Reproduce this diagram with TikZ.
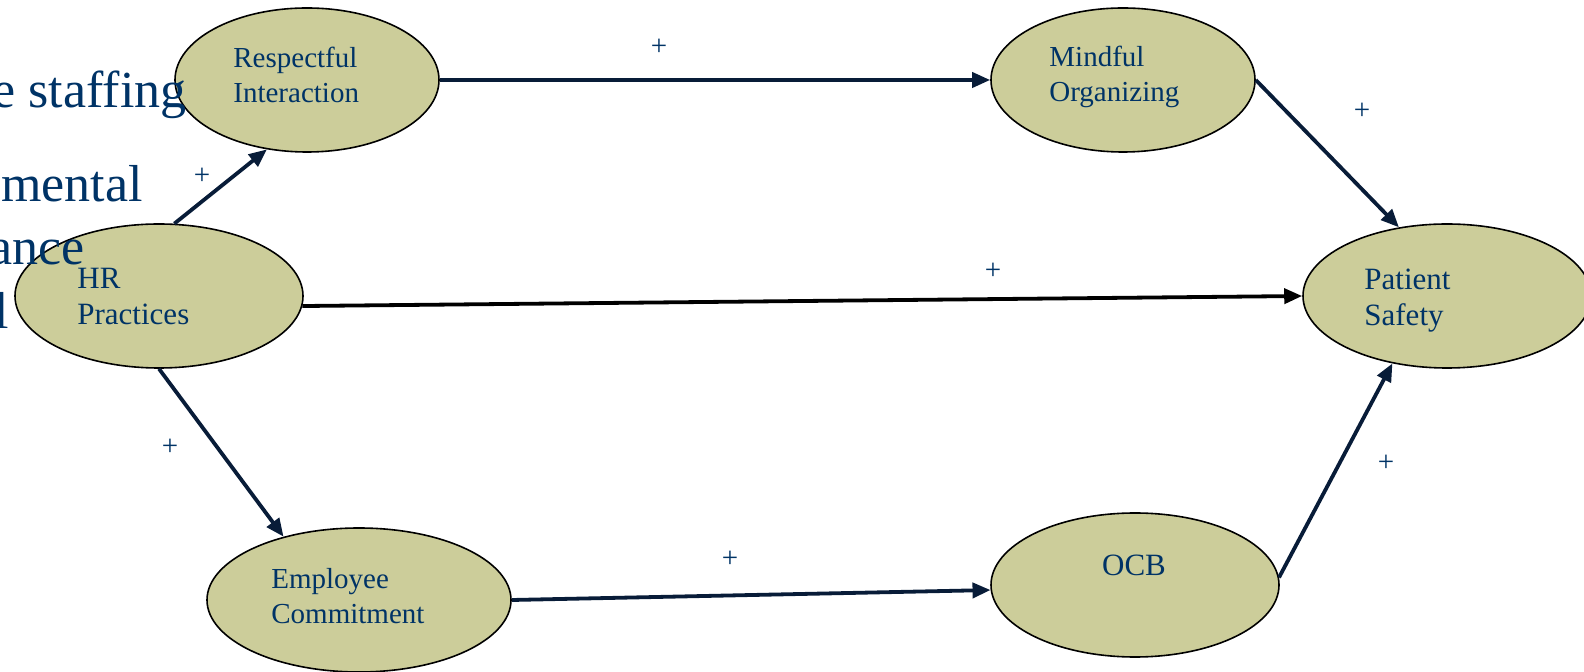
\documentclass[tikz,border=0pt]{standalone}
\usepackage{fontspec}
\setmainfont{Liberation Serif}
\usetikzlibrary{shapes.geometric,arrows.meta}
\definecolor{txtblue}{RGB}{0,51,102}
\definecolor{khaki}{RGB}{204,205,154}
\definecolor{navy}{RGB}{8,28,56}
\begin{document}
\begin{tikzpicture}[x=0.5pt,y=-0.5pt,
  oval/.style={ellipse, draw=black, line width=0.8pt, fill=khaki, inner sep=0pt, minimum height=72pt},
  lbl/.style={text=txtblue, font=\fontsize{14.5}{17.5}\selectfont, align=left, anchor=base west, inner sep=0pt},
  biglbl/.style={lbl, font=\fontsize{15.5}{18}\selectfont},
  plus/.style={text=txtblue, font=\fontsize{14.5}{16}\selectfont, inner sep=0pt},
  arr/.style={draw=navy, line width=1.9pt, -{Triangle[length=9pt,width=7.5pt]}},
  bg/.style={text=txtblue, font=\fontsize{26}{30}\selectfont, inner sep=0pt, anchor=base east}]
\useasboundingbox (0,0) rectangle (1584,672);
% ellipses
\node[oval, minimum width=132pt] (resp) at (307,80) {};
\node[oval, minimum width=132pt] (mind) at (1123,80) {};
\node[oval, minimum width=144pt] (hr) at (159,296) {};
\node[oval, minimum width=144pt] (pat) at (1447,296) {};
\node[oval, minimum width=152pt] (emp) at (359,600) {};
\node[oval, minimum width=144pt] (ocb) at (1135,585) {};
% labels (anchor = baseline of the last line)
\node[lbl] (respt) at (233,103) {Respectful\\Interaction};
\node[lbl] (mindt) at (1049,102) {Mindful\\Organizing};
\node[biglbl] (hrt) at (77,325) {HR\\Practices};
\node[biglbl] (patt) at (1364,326) {Patient\\Safety};
\node[lbl] (empt) at (271,624) {Employee\\Commitment};
\node[biglbl, anchor=base] (ocbt) at (1134,576) {OCB};
% connectors
\draw[arr] (hr.78) -- (resp.240);
\draw[arr] (resp.east) -- (mind.west);
\draw[arr] (mind.east) -- (pat.125);
\draw[arr, draw=black] (hr.-4) -- (pat.west);
\draw[arr] (hr.south) -- (emp.140);
\draw[arr] (emp.east) -- (ocb.182);
\draw[arr] (ocb.3) -- (pat.231);
% plus signs
\node[plus] (p1) at (202,176) {+};
\node[plus] (p2) at (659,47) {+};
\node[plus] (p3) at (1362,111) {+};
\node[plus] (p4) at (993,271) {+};
\node[plus] (p5) at (170,447) {+};
\node[plus] (p6) at (730,559) {+};
\node[plus] (p7) at (1386,463) {+};
% background slide text
\node[bg] (b1) at (187,108) {e staffing};
\node[bg] (b2) at (143,202) {mental};
\node[bg] (b3) at (85,265) {ance};
\node[bg] (b4) at (9,329) {l};
\end{tikzpicture}
\end{document}
